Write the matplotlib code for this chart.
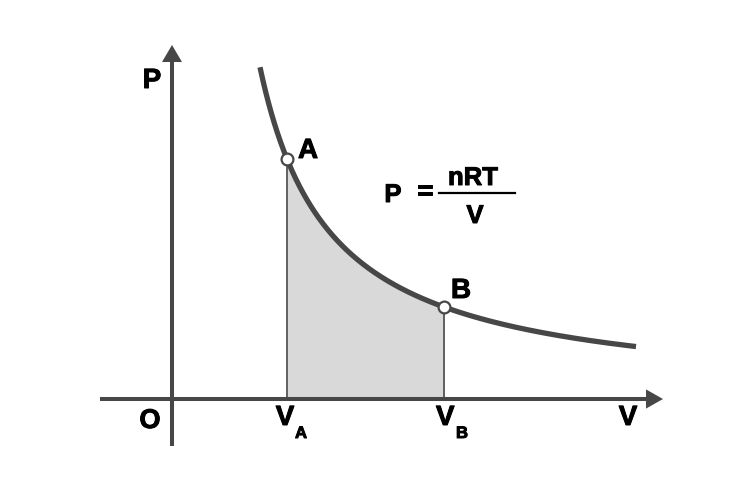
import numpy as np
import matplotlib.pyplot as plt
import matplotlib.patheffects as pe

# isotherm P = nRT/(V - V0) (1 unit = 40 px)
nRT = 14.64
V0 = 0.435
V_start, V_end = 2.2, 11.6
V_A, V_B = 2.875, 6.8

axis_col = '#474747'
fill_col = '#d9d9d9'

def pressure(v):
    return nRT / (v - V0)

fig = plt.figure(figsize=(7.5, 4.78), dpi=100)
ax = fig.add_axes([0, 0, 1, 1])
ax.set_xlim(-4.3, 14.45)
ax.set_ylim(-1.975, 9.975)
ax.axis('off')
plt.rcParams['font.family'] = ['Liberation Sans', 'DejaVu Sans']

# axes with arrow heads
ax.plot([-1.8, 11.9], [0, 0], color=axis_col, lw=2.9, solid_capstyle='butt', zorder=3)
ax.plot([0, 0], [-1.175, 8.5], color=axis_col, lw=2.9, solid_capstyle='butt', zorder=3)
ax.fill([11.85, 12.275, 11.85], [0.24, 0, -0.24], color=axis_col, lw=0, zorder=3)
ax.fill([-0.25, 0, 0.25], [8.425, 8.85, 8.425], color=axis_col, lw=0, zorder=3)

# shaded work area
vv = np.linspace(V_A, V_B, 200)
ax.fill_between(vv, 0, pressure(vv), color=fill_col, lw=0, zorder=1)
ax.plot([V_A, V_A], [0, pressure(V_A)], color='#555555', lw=1.3, zorder=2)
ax.plot([V_B, V_B], [0, pressure(V_B)], color='#555555', lw=1.3, zorder=2)

# curve
v = np.linspace(V_start, V_end, 400)
ax.plot(v, pressure(v), color=axis_col, lw=3.8, solid_capstyle='butt', zorder=4)
ax.plot([V_A, V_B], [pressure(V_A), pressure(V_B)], 'o', ms=8.5, mfc='white',
        mec=axis_col, mew=1.6, zorder=5)

heavy = [pe.withStroke(linewidth=0.7, foreground='black')]
kw = dict(fontweight='bold', color='black', ha='center', va='baseline', path_effects=heavy)
ax.text(-0.5, 7.775, 'P', fontsize=20, **kw)
ax.text(-0.55, -0.725, 'O', fontsize=19.5, **kw)
ax.text(11.4, -0.65, 'V', fontsize=20, **kw)
ax.text(V_A - 0.05, -0.65, 'V', fontsize=20, **kw)
ax.text(3.225, -0.975, 'A', fontsize=12, **kw)
ax.text(V_B + 0.03, -0.65, 'V', fontsize=20, **kw)
ax.text(7.25, -0.975, 'B', fontsize=12, **kw)
ax.text(3.4, 6.025, 'A', fontsize=20, **kw)
ax.text(7.225, 2.525, 'B', fontsize=20, **kw)

# formula
ax.text(5.525, 4.925, 'P', fontsize=18.5, **kw)
ax.text(6.325, 5.17, '=', fontsize=20, fontweight='bold', ha='center', va='center',
        path_effects=heavy)
ax.plot([6.675, 8.575], [5.15, 5.15], color='black', lw=1.6)
ax.text(7.525, 5.35, 'nRT', fontsize=18.5, **kw)
ax.text(7.575, 4.4, 'V', fontsize=18.5, **kw)

fig.savefig('out.png', dpi=100)
